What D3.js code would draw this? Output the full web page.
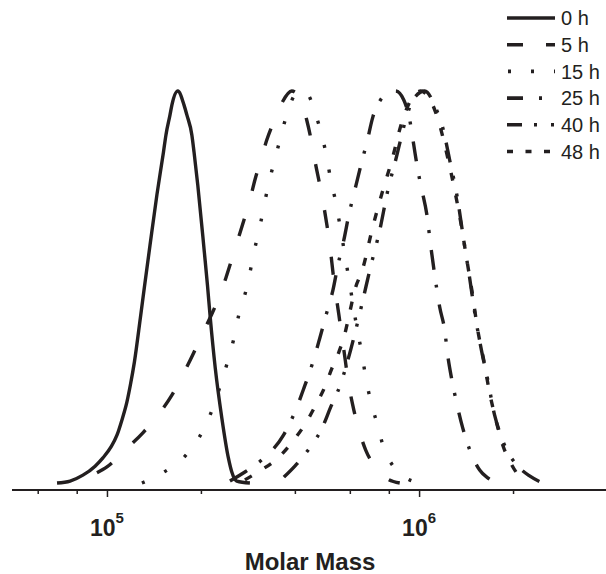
<!DOCTYPE html>
<html lang="en">
<head>
  <meta charset="UTF-8">
  <title>Molar Mass Distribution</title>
  <script src="https://d3js.org/d3.v7.min.js"></script>
  <style>
    html, body { margin: 0; padding: 0; background: #fff; }
    svg { display: block; }
    text { font-family: "Liberation Sans", Arial, sans-serif; fill: #231f20; }
  </style>
</head>
<body>
  <div id="chart"></div>
  <script>
    // [log10(M), normalised intensity]
    const h0 = [[4.840,0],[4.882,0.005],[4.923,0.020],[4.962,0.043],[4.987,0.064],[5.013,0.092],[5.032,0.122],
      [5.048,0.161],[5.064,0.207],[5.075,0.250],[5.088,0.309],[5.107,0.421],[5.120,0.500],[5.138,0.607],
      [5.160,0.735],[5.181,0.844],[5.189,0.888],[5.202,0.939],[5.208,0.964],[5.227,1.000],[5.247,0.964],
      [5.256,0.939],[5.272,0.888],[5.279,0.844],[5.291,0.760],[5.312,0.589],[5.322,0.505],[5.331,0.421],
      [5.347,0.293],[5.368,0.166],[5.389,0.064],[5.400,0.028],[5.416,0.005],[5.458,0]];
    const h5 = [[4.968,0.026],[5.000,0.041],[5.058,0.084],[5.115,0.128],[5.163,0.173],[5.208,0.224],[5.243,0.276],
      [5.275,0.327],[5.304,0.378],[5.333,0.426],[5.359,0.474],[5.381,0.523],[5.400,0.571],[5.419,0.620],
      [5.439,0.671],[5.458,0.722],[5.474,0.773],[5.493,0.824],[5.512,0.875],[5.535,0.923],[5.560,0.969],
      [5.592,1.000],[5.612,0.990],[5.624,0.969],[5.640,0.926],[5.653,0.880],[5.669,0.811],[5.682,0.760],
      [5.698,0.691],[5.714,0.607],[5.727,0.518],[5.743,0.429],[5.759,0.339],[5.775,0.250],[5.791,0.186],
      [5.810,0.128],[5.829,0.084],[5.855,0.046],[5.890,0.015],[5.938,0]];
    const h15 = [[5.112,0],[5.179,0.026],[5.253,0.071],[5.307,0.133],[5.339,0.191],[5.365,0.253],[5.387,0.311],
      [5.407,0.370],[5.423,0.431],[5.445,0.490],[5.461,0.548],[5.477,0.610],[5.493,0.666],[5.509,0.730],
      [5.525,0.786],[5.544,0.844],[5.564,0.906],[5.586,0.964],[5.615,1.000],[5.644,0.990],[5.669,0.939],
      [5.688,0.888],[5.704,0.832],[5.717,0.773],[5.733,0.717],[5.749,0.645],[5.765,0.569],[5.781,0.492],
      [5.801,0.395],[5.817,0.329],[5.829,0.270],[5.845,0.209],[5.865,0.153],[5.887,0.089],[5.919,0.041],
      [5.954,0.015],[6.002,0]];
    const h25 = [[5.394,0.005],[5.442,0.028],[5.496,0.059],[5.564,0.120],[5.602,0.181],[5.631,0.242],[5.660,0.309],
      [5.682,0.370],[5.704,0.434],[5.724,0.492],[5.740,0.556],[5.759,0.620],[5.775,0.684],[5.794,0.747],
      [5.813,0.809],[5.833,0.870],[5.852,0.934],[5.874,0.974],[5.900,0.995],[5.925,1.000],[5.951,0.977],
      [5.970,0.926],[5.983,0.862],[5.996,0.798],[6.009,0.747],[6.025,0.684],[6.037,0.607],[6.050,0.531],
      [6.066,0.449],[6.082,0.390],[6.092,0.324],[6.105,0.263],[6.121,0.202],[6.140,0.140],[6.166,0.077],
      [6.194,0.033],[6.220,0.013],[6.249,0]];
    const h40 = [[5.567,0.015],[5.602,0.043],[5.656,0.097],[5.688,0.138],[5.717,0.194],[5.746,0.247],[5.772,0.314],
      [5.797,0.390],[5.820,0.467],[5.842,0.543],[5.874,0.645],[5.900,0.747],[5.925,0.824],[5.957,0.926],
      [5.980,0.977],[6.018,1.000],[6.053,0.957],[6.076,0.906],[6.098,0.824],[6.121,0.735],[6.143,0.620],
      [6.162,0.523],[6.182,0.416],[6.201,0.334],[6.220,0.263],[6.242,0.173],[6.258,0.130],[6.281,0.084],
      [6.313,0.046],[6.354,0.018],[6.396,0]];
    const h48 = [[5.442,0.008],[5.490,0.031],[5.548,0.064],[5.599,0.110],[5.637,0.153],[5.669,0.199],[5.698,0.245],
      [5.720,0.291],[5.743,0.334],[5.762,0.380],[5.778,0.436],[5.794,0.492],[5.820,0.548],[5.849,0.645],
      [5.884,0.747],[5.913,0.824],[5.945,0.921],[5.970,0.972],[6.005,1.000],[6.044,0.964],[6.066,0.913],
      [6.092,0.829],[6.114,0.747],[6.134,0.663],[6.153,0.569],[6.169,0.492],[6.188,0.390],[6.207,0.314],
      [6.226,0.230],[6.246,0.161],[6.268,0.097],[6.297,0.046],[6.329,0.008]];

    const seriesNames = ["0 h", "5 h", "15 h", "25 h", "40 h", "48 h"];
    const seriesData = [h0, h5, h15, h25, h40, h48];
    const majorTicks = [1e5, 1e6];
    const majorExponents = ["5", "6"];
    const minorTicks = [6e4, 8e4, 2e5, 4e5, 6e5, 8e5, 2e6];
    const xDomain = [5e4, 4e6];

    const width = 606, height = 574, ink = "#231f20";
    const fontFamily = "'Liberation Sans', Arial, Helvetica, sans-serif";
    // dash patterns on the curves, and slightly tighter ones in the legend
    const curveDash = [null, "18,29", "3,22", "20,15,3,17", "20,14,3,15,3,13", "8,15"];
    const legendDash = [null, "16,23", "3,20", "16,16,3,16", "15,12,3,14,3,20", "6,12.5"];
    const legendOffset = [0, 0, -1, 0, 0, 0];

    const svg = d3.select("#chart").append("svg")
      .attr("width", width).attr("height", height)
      .attr("font-family", fontFamily);

    const x = d3.scaleLog().domain(xDomain).range([13, 607]);
    const y = d3.scaleLinear().domain([0, 1]).range([483, 91]);
    const axisY = 490;

    const line = d3.line()
      .x(d => x(Math.pow(10, d[0])))
      .y(d => y(d[1]))
      .curve(d3.curveMonotoneX);

    svg.append("g").selectAll("path").data(seriesData).join("path")
      .attr("d", line)
      .attr("fill", "none")
      .attr("stroke", ink)
      .attr("stroke-width", 3.4)
      .attr("stroke-dasharray", (d, i) => curveDash[i]);

    // x axis
    const gx = svg.append("g").attr("transform", `translate(0,${axisY})`);
    gx.call(d3.axisBottom(x).tickValues(majorTicks).tickSize(7).tickSizeOuter(0).tickFormat(""));
    gx.append("g").call(d3.axisBottom(x).tickValues(minorTicks).tickSize(4).tickSizeOuter(0).tickFormat(""))
      .select(".domain").remove();
    gx.select(".domain").attr("d", `M12,0H606`).attr("stroke-width", 2).attr("stroke", ink);
    gx.selectAll(".tick line").attr("stroke", ink).attr("stroke-width", 1.5);

    const labels = svg.append("g").selectAll("text").data(majorTicks).join("text")
      .attr("x", d => x(d))
      .attr("y", 536)
      .attr("text-anchor", "middle")
      .attr("font-family", fontFamily)
      .attr("font-weight", "bold")
      .attr("font-size", 23);
    labels.append("tspan").text("10");
    labels.append("tspan").attr("dy", -13).attr("font-size", 15).text((d, i) => majorExponents[i]);

    svg.append("text")
      .attr("x", 310).attr("y", 570)
      .attr("text-anchor", "middle")
      .attr("font-family", fontFamily)
      .attr("font-weight", "bold")
      .attr("font-size", 24)
      .text("Molar Mass");

    // legend
    const legend = svg.append("g").selectAll("g").data(seriesNames).join("g")
      .attr("transform", (d, i) => `translate(0,${18 + i * 26.7})`);
    legend.append("line")
      .attr("x1", 507).attr("x2", 555)
      .attr("stroke", ink).attr("stroke-width", 3.6)
      .attr("stroke-dasharray", (d, i) => legendDash[i])
      .attr("stroke-dashoffset", (d, i) => legendOffset[i]);
    legend.append("text")
      .attr("x", 561).attr("dy", "0.36em")
      .attr("font-family", fontFamily)
      .attr("font-size", 20)
      .text(d => d);
  </script>
</body>
</html>
